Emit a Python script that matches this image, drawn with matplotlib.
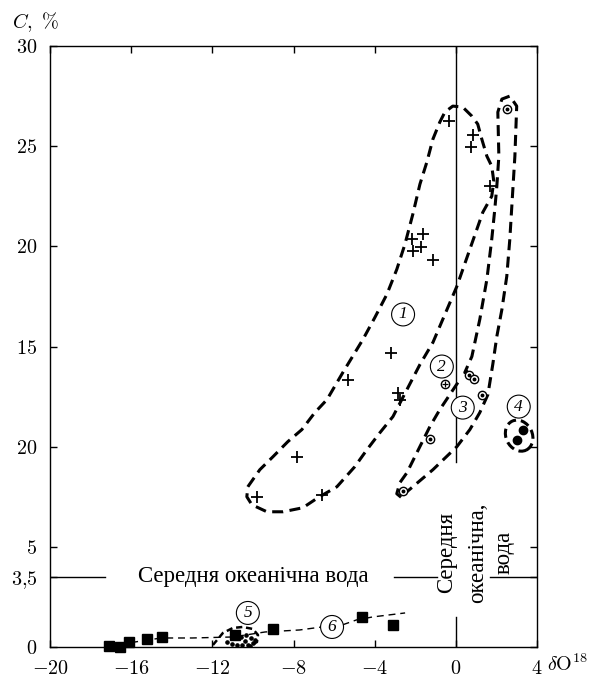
import numpy as np
import matplotlib
matplotlib.use("Agg")
import matplotlib.pyplot as plt
from matplotlib.patches import Ellipse

plt.rcParams['mathtext.fontset'] = 'cm'
plt.rcParams['font.family'] = ['Liberation Serif', 'DejaVu Serif']

# axis ticks
x_ticks = [-20, -16, -12, -8, -4, 0, 4]
x_ticklabels = ['$-20$', '$-16$', '$-12$', '$-8$', '$-4$', '$0$', '$4$']
y_ticks = [0, 3.5, 5, 10, 15, 20, 25, 30]
y_ticklabels = ['$0$', '$3{,}5$', '$5$', '$20$', '$15$', '$20$', '$25$', '$30$']

# group 1: crosses
plus_x = [-0.34, 0.84, 0.74, 1.70, -2.17, -1.63, -2.12, -1.72, -1.13, -3.2, -5.3, -2.85, -2.75, -6.6, -7.85, -9.8]
plus_y = [26.25, 25.55, 24.95, 23.0, 20.35, 20.6, 19.75, 19.95, 19.3, 14.7, 13.35, 12.7, 12.35, 7.6, 9.5, 7.5]
# group 2: circle with cross
oplus_x = [-0.54]
oplus_y = [13.15]
# group 3: circle with dot
odot_x = [2.5, 0.64, 0.89, 1.28, -1.28, -2.6]
odot_y = [26.85, 13.6, 13.4, 12.6, 10.4, 7.8]
# group 4: filled circles
filled_x = [3.3, 3.0]
filled_y = [10.85, 10.35]
# group 5: small dots
dots_x = [-11.3, -11.05, -10.8, -10.55, -10.4, -10.25, -10.1, -10.0, -9.9, -10.6, -10.35, -10.15]
dots_y = [0.25, 0.15, 0.1, 0.1, 0.3, 0.1, 0.45, 0.2, 0.35, 0.5, 0.6, 0.05]
# group 6: squares
sq_x = [-17.1, -16.55, -16.1, -15.2, -14.5, -10.9, -9.0, -4.6, -3.1]
sq_y = [0.05, 0.0, 0.25, 0.4, 0.5, 0.6, 0.9, 1.5, 1.1]

# envelopes (dashed outlines)
env1_x = [-10.25, -9.66, -9.01, -8.28, -7.59, -6.95, -6.35, -5.57, -4.58, -3.99, -3.40, -2.91, -2.51,
          -2.12, -1.77, -1.43, -1.13, -0.79, -0.54, -0.15, 0.34, 0.79, 1.08, 1.28, 1.53, 1.77, 1.87,
          1.77, 1.33, 0.69, 0.05, -0.54, -1.13, -1.77, -2.41, -3.10, -3.74, -4.38, -4.98, -5.86,
          -6.80, -7.54, -8.52, -9.31, -10.05, -10.30, -10.25]
env1_y = [8.0, 8.85, 9.5, 10.25, 10.85, 11.7, 12.35, 13.7, 15.35, 16.45, 17.6, 18.85, 20.1,
          21.6, 23.1, 24.2, 25.35, 26.2, 26.7, 27.0, 26.95, 26.5, 26.1, 25.35, 24.5, 24.0, 23.25,
          22.5, 21.7, 19.85, 18.0, 16.6, 15.2, 14.1, 12.85, 11.5, 10.7, 9.85, 9.0, 8.0,
          7.45, 6.95, 6.75, 6.75, 7.1, 7.5, 8.0]
env3a_x = [0.10, -0.79, -1.28, -1.92, -2.41, -2.76, -2.91, -2.61]
env3a_y = [13.2, 11.85, 11.0, 9.7, 8.7, 8.2, 7.65, 7.4]
env3b_x = [0.62, 0.44, 0.79, 1.18, 1.53, 1.77, 1.92, 2.02, 2.12, 2.07, 2.27, 2.66, 3.00, 2.91,
           2.81, 2.66, 2.51, 2.27, 2.02, 1.82, 1.58, 1.18, 0.69, 0.05, -1.13, -2.12, -2.41]
env3b_y = [13.75, 13.7, 14.5, 16.35, 18.35, 20.35, 21.85, 23.0, 24.5, 26.7, 27.35, 27.5, 27.0, 24.5,
           22.85, 20.35, 18.5, 16.85, 15.5, 14.1, 12.6, 11.7, 10.85, 10.0, 8.85, 8.0, 7.75]
env5_x = [-11.97, -11.48, -10.99, -10.5, -10.0, -9.75, -9.8, -10.05]
env5_y = [0.1, 0.7, 0.95, 1.0, 0.9, 0.6, 0.25, 0.1]
env4_center = (3.12, 10.55)
# group 6 trend line
trend_x = [-16.0, -15.2, -14.5, -13.0, -11.0, -9.4, -7.7, -6.6, -5.6, -4.9, -4.1, -2.5]
trend_y = [0.22, 0.35, 0.45, 0.45, 0.5, 0.75, 0.85, 1.0, 1.1, 1.35, 1.5, 1.7]

# circled numbers
num_labels = ['1', '2', '3', '4', '5', '6']
num_x = [-2.6, -0.69, 0.34, 3.1, -10.25, -6.1]
num_y = [16.6, 14.0, 11.95, 12.0, 1.7, 1.0]

# reference lines
ocean_c = 3.5

fig = plt.figure(figsize=(5.92, 6.81), dpi=100)
ax = fig.add_axes([50 / 592, 34 / 681, 487 / 592, 601 / 681])
ax.set_xlim(-20, 4)
ax.set_ylim(0, 30)

env_style = dict(color='black', lw=2.2, linestyle=(0, (3.6, 2.1)), zorder=3)
ax.plot(env1_x, env1_y, **env_style)
ax.plot(env3a_x, env3a_y, **env_style)
ax.plot(env3b_x, env3b_y, **env_style)
ax.plot(env5_x, env5_y, color='black', lw=1.8, linestyle=(0, (2.5, 1.5)), zorder=3)
ax.add_patch(Ellipse(env4_center, 1.3, 1.6, angle=25, fill=False, ec='black', lw=2.2,
                     linestyle=(0, (3.0, 1.6)), zorder=3, clip_on=False))
ax.plot(trend_x, trend_y, color='black', lw=1.0, linestyle=(0, (5, 3.5)), zorder=3)

# reference lines: mean ocean water
ax.plot([-20, -17.3], [ocean_c, ocean_c], color='black', lw=1.0)
ax.plot([-3.05, -0.94], [ocean_c, ocean_c], color='black', lw=1.0)
ax.plot([1.67, 4], [ocean_c, ocean_c], color='black', lw=1.0)
ax.plot([0, 0], [9.25, 30], color='black', lw=1.0)
ax.plot([0, 0], [0, 1.5], color='black', lw=1.0)
ax.text(-10.0, ocean_c, 'Середня океанічна вода', fontsize=16.5, ha='center', va='center')
for xv, s in zip([-0.45, 1.08, 2.36], ['Середня', 'океанічна,', 'вода']):
    ax.text(xv, 4.7, s, fontsize=16.5, rotation=90, ha='center', va='center')

# markers
ax.plot(plus_x, plus_y, '+', color='black', ms=8, mew=1.3, zorder=4)
ax.plot(oplus_x, oplus_y, 'o', mfc='white', mec='black', ms=6, mew=1.0, zorder=4)
ax.plot(oplus_x, oplus_y, '+', color='black', ms=5, mew=0.9, zorder=5)
ax.plot(odot_x, odot_y, 'o', mfc='white', mec='black', ms=6, mew=1.0, zorder=4)
ax.plot(odot_x, odot_y, 'o', color='black', ms=1.8, zorder=5)
ax.plot(filled_x, filled_y, 'o', color='black', ms=6, zorder=4)
ax.plot(dots_x, dots_y, 'o', color='black', ms=2.3, zorder=4)
ax.plot(sq_x, sq_y, 's', color='black', ms=6.5, zorder=4, clip_on=False)

for s, xv, yv in zip(num_labels, num_x, num_y):
    ax.text(xv, yv, s, fontsize=12.5, style='italic', ha='center', va='center', zorder=6,
            bbox=dict(boxstyle='circle,pad=0.2', fc='white', ec='black', lw=0.8))

ax.set_xticks(x_ticks)
ax.set_xticklabels(x_ticklabels)
ax.set_yticks(y_ticks)
ax.set_yticklabels(y_ticklabels)
ax.tick_params(direction='in', length=5, width=1.0, top=True, right=True, labelsize=14.5, pad=9)
for sp in ax.spines.values():
    sp.set_linewidth(1.0)

ax.text(-0.078, 1.04, '$C,\\ \\%$', transform=ax.transAxes, fontsize=14.5, ha='left', va='center')
ax.text(1.02, -0.03, '$\\delta\\mathrm{O}^{18}$', transform=ax.transAxes, fontsize=14.5,
        ha='left', va='center')

fig.savefig('out.png', dpi=100)
